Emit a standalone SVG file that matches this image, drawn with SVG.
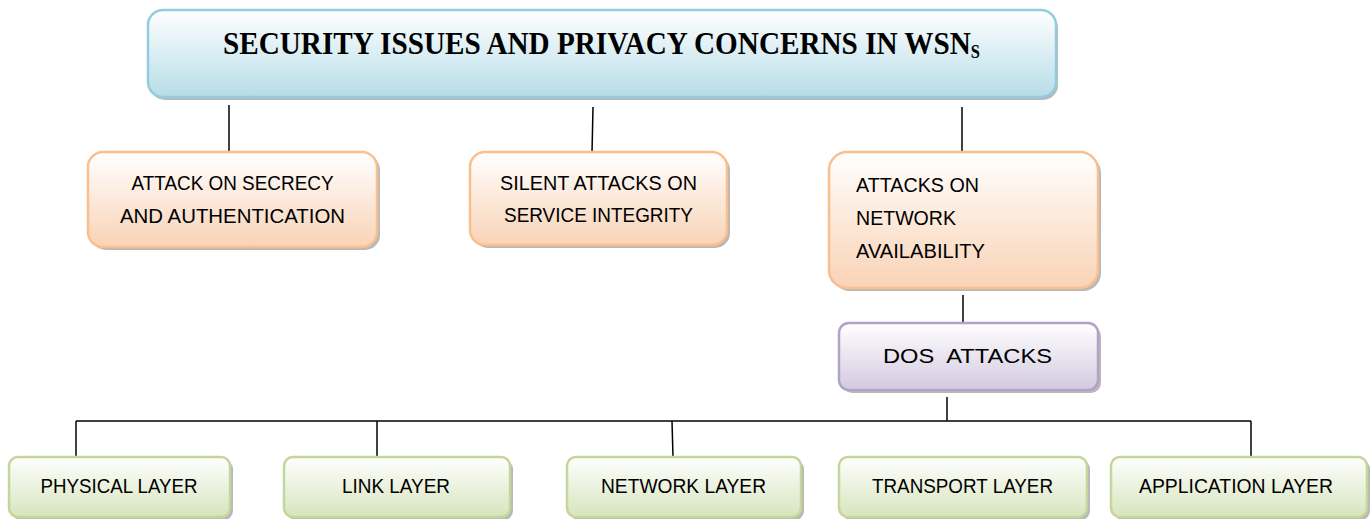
<svg xmlns="http://www.w3.org/2000/svg" width="1372" height="519" viewBox="0 0 1372 519">
<defs>
<linearGradient id="gBlue" x1="0" y1="0" x2="0" y2="1"><stop offset="0" stop-color="#ffffff"/><stop offset="1" stop-color="#b6dde8"/></linearGradient>
<linearGradient id="gOrange" x1="0" y1="0" x2="0" y2="1"><stop offset="0" stop-color="#ffffff"/><stop offset="1" stop-color="#f9d3b6"/></linearGradient>
<linearGradient id="gPurple" x1="0" y1="0" x2="0" y2="1"><stop offset="0" stop-color="#ffffff"/><stop offset="1" stop-color="#d3c9e0"/></linearGradient>
<linearGradient id="gGreen" x1="0" y1="0" x2="0" y2="1"><stop offset="0" stop-color="#ffffff"/><stop offset="1" stop-color="#d7e4bd"/></linearGradient>
</defs>
<style>
.sh{fill:#9a9a9a;opacity:0.7}
.blue{fill:url(#gBlue);stroke:#93cddd;stroke-width:2.5}
.orange{fill:url(#gOrange);stroke:#f9bf8f;stroke-width:2.5}
.purple{fill:url(#gPurple);stroke:#b3a2c7;stroke-width:2.5}
.green{fill:url(#gGreen);stroke:#c3d69b;stroke-width:2.5}
.t{font-family:"Liberation Sans",Arial,sans-serif;fill:#000;font-size:20px}
.g{font-size:21px}
.title{font-family:"Liberation Serif","Times New Roman",serif;font-weight:bold;font-size:32px;fill:#000}
.c{stroke:#000;stroke-width:1.5;fill:none}
</style>
<g id="connectors">
<line class="c" x1="229" y1="105" x2="229" y2="153"/>
<line class="c" x1="593" y1="107" x2="592" y2="153"/>
<line class="c" x1="962" y1="107" x2="962" y2="153"/>
<line class="c" x1="963" y1="295" x2="963" y2="323"/>
<line class="c" x1="947" y1="397" x2="947" y2="421"/>
<line class="c" x1="76" y1="421" x2="1251" y2="421"/>
<line class="c" x1="76" y1="421" x2="76" y2="457"/>
<line class="c" x1="377" y1="421" x2="377" y2="457"/>
<line class="c" x1="672" y1="421" x2="673" y2="457"/>
<line class="c" x1="1251" y1="421" x2="1251" y2="457"/>
</g>
<g id="title">
<rect class="sh" x="150" y="13" width="908" height="87" rx="15"/>
<rect class="blue" x="148" y="10" width="908" height="87" rx="15"/>
<text class="title" x="223" y="54" textLength="757" lengthAdjust="spacingAndGlyphs">SECURITY ISSUES AND PRIVACY CONCERNS IN WSN<tspan font-size="18" dy="4">S</tspan></text>
</g>
<g id="secrecy">
<rect class="sh" x="91" y="155" width="289" height="95" rx="15"/>
<rect class="orange" x="88" y="152" width="289" height="95" rx="15"/>
<text class="t" x="232.5" y="190" text-anchor="middle" textLength="202" lengthAdjust="spacingAndGlyphs">ATTACK ON SECRECY</text>
<text class="t" x="232.5" y="223" text-anchor="middle" textLength="225" lengthAdjust="spacingAndGlyphs">AND AUTHENTICATION</text>
</g>
<g id="integrity">
<rect class="sh" x="473" y="155" width="257" height="93" rx="15"/>
<rect class="orange" x="470" y="152" width="257" height="93" rx="15"/>
<text class="t" x="598.5" y="190" text-anchor="middle" textLength="197" lengthAdjust="spacingAndGlyphs">SILENT ATTACKS ON</text>
<text class="t" x="598.5" y="222" text-anchor="middle" textLength="189" lengthAdjust="spacingAndGlyphs">SERVICE INTEGRITY</text>
</g>
<g id="availability">
<rect class="sh" x="832" y="155" width="269" height="136" rx="18"/>
<rect class="orange" x="829" y="152" width="269" height="136" rx="18"/>
<text class="t" x="856" y="192" textLength="123" lengthAdjust="spacingAndGlyphs">ATTACKS ON</text>
<text class="t" x="856" y="225" textLength="100" lengthAdjust="spacingAndGlyphs">NETWORK</text>
<text class="t" x="856" y="258" textLength="129" lengthAdjust="spacingAndGlyphs">AVAILABILITY</text>
</g>
<g id="dos">
<rect class="sh" x="842" y="326" width="259" height="67" rx="10"/>
<rect class="purple" x="839" y="323" width="259" height="67" rx="10"/>
<text class="t" x="967.5" y="363" font-size="25" text-anchor="middle" textLength="169" lengthAdjust="spacingAndGlyphs" xml:space="preserve">DOS  ATTACKS</text>
</g>
<g id="physical">
<rect class="sh" x="12" y="460" width="221" height="60" rx="9"/>
<rect class="green" x="9" y="457" width="221" height="60" rx="9"/>
<text class="t g" x="119" y="493" text-anchor="middle" textLength="157" lengthAdjust="spacingAndGlyphs">PHYSICAL LAYER</text>
</g>
<g id="link">
<rect class="sh" x="287" y="460" width="226" height="60" rx="9"/>
<rect class="green" x="284" y="457" width="226" height="60" rx="9"/>
<text class="t g" x="396" y="493" text-anchor="middle" textLength="108" lengthAdjust="spacingAndGlyphs">LINK LAYER</text>
</g>
<g id="network">
<rect class="sh" x="570" y="460" width="234" height="60" rx="9"/>
<rect class="green" x="567" y="457" width="234" height="60" rx="9"/>
<text class="t g" x="683.5" y="493" text-anchor="middle" textLength="165" lengthAdjust="spacingAndGlyphs">NETWORK LAYER</text>
</g>
<g id="transport">
<rect class="sh" x="842" y="460" width="248" height="60" rx="9"/>
<rect class="green" x="839" y="457" width="248" height="60" rx="9"/>
<text class="t g" x="962.5" y="493" text-anchor="middle" textLength="181" lengthAdjust="spacingAndGlyphs">TRANSPORT LAYER</text>
</g>
<g id="application">
<rect class="sh" x="1114" y="460" width="256" height="60" rx="9"/>
<rect class="green" x="1111" y="457" width="256" height="60" rx="9"/>
<text class="t g" x="1236" y="493" text-anchor="middle" textLength="194" lengthAdjust="spacingAndGlyphs">APPLICATION LAYER</text>
</g>
</svg>
